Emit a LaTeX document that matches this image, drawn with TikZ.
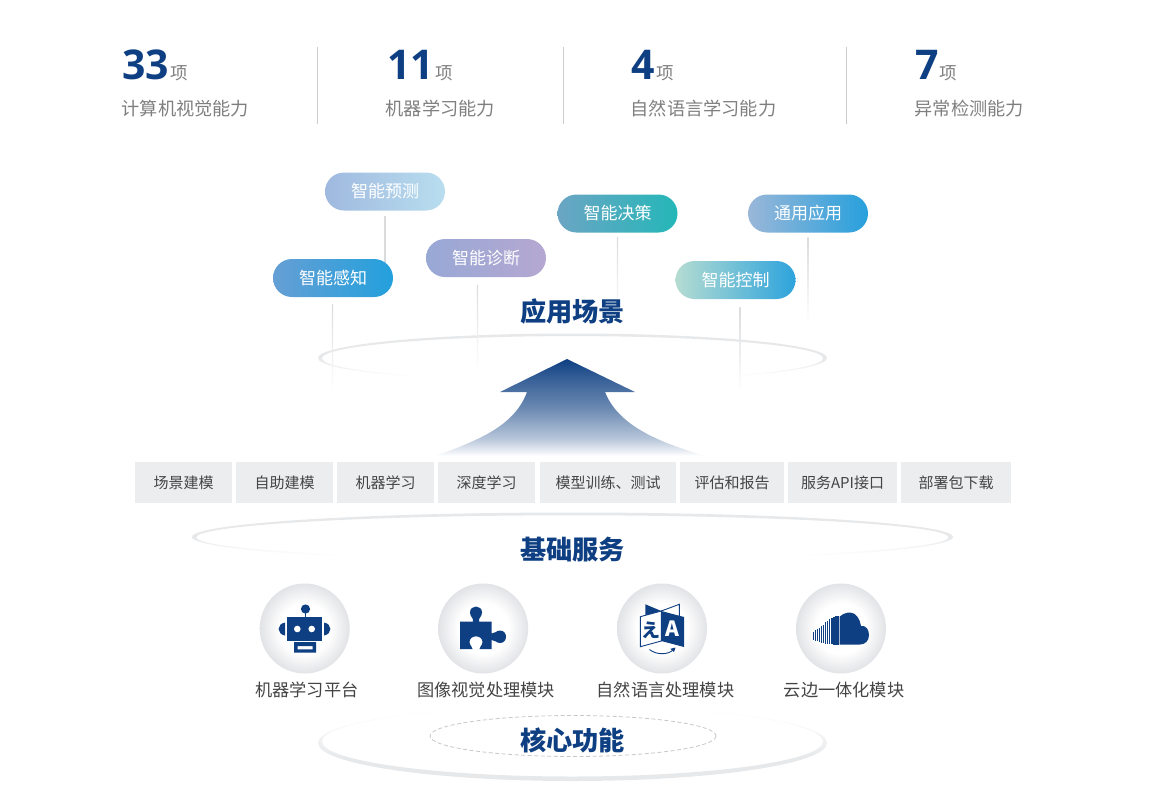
\documentclass[tikz,border=0pt]{standalone}
\usepackage{fontspec}
\setmainfont{Noto Sans CJK SC}
\newfontfamily\numfont{Open Sans}
\usetikzlibrary{calc}
\definecolor{navy}{HTML}{0E3F82}
\definecolor{ringgray}{HTML}{E6E8EA}
\definecolor{boxgray}{HTML}{ECEDEF}
\definecolor{discgray}{HTML}{E2E3E6}
\definecolor{statgray}{HTML}{7F7F7F}
\definecolor{labelgray}{HTML}{444444}
\definecolor{linegray}{HTML}{DADBDD}
\definecolor{pa}{HTML}{9FB9DF}\definecolor{pb}{HTML}{B9DEEF}
\definecolor{qa}{HTML}{659FD5}\definecolor{qb}{HTML}{23A0DC}
\definecolor{ra}{HTML}{98A8D5}\definecolor{rb}{HTML}{B5A8D2}
\definecolor{sa}{HTML}{6BA5C4}\definecolor{sb}{HTML}{24B7B8}
\definecolor{ta}{HTML}{9AB7D9}\definecolor{tb}{HTML}{27A0DC}
\definecolor{ua}{HTML}{B5DCD2}\definecolor{ub}{HTML}{2DA3DC}
\colorlet{ringsoft}{white!85!ringgray}
\colorlet{navya}{navy!30!white}
\colorlet{navyb}{navy!62!white}
\colorlet{navyc}{navy!80!white}
\pgfdeclareverticalshading{ringfade}{100bp}{color(0bp)=(white); color(31bp)=(white); color(50bp)=(ringgray); color(100bp)=(ringgray)}
\pgfdeclareverticalshading{ringrise}{100bp}{color(0bp)=(ringgray); color(40bp)=(ringgray); color(66bp)=(ringsoft); color(74bp)=(white); color(100bp)=(white)}
\pgfdeclareverticalshading{arrowfade}{100bp}{color(0bp)=(white); color(25bp)=(white); color(34bp)=(navya); color(50bp)=(navyb); color(63bp)=(navyc); color(75bp)=(navy); color(100bp)=(navy)}
\pgfdeclareradialshading{discshade}{\pgfpoint{0bp}{0bp}}{color(0bp)=(white); color(14bp)=(white); color(25bp)=(discgray); color(50bp)=(discgray)}
\tikzset{
  pill/.style={minimum width=120pt,minimum height=38pt,rounded corners=19pt,inner sep=0pt,text=white,font=\fontsize{17}{17}\selectfont},
  svc/.style={fill=boxgray,minimum height=41pt,inner sep=0pt,text=labelgray,font=\fontsize{15}{15}\selectfont},
  headline/.style={inner sep=0pt,text=navy,font=\fontsize{26.2}{26}\selectfont\bfseries},
  bignum/.style={anchor=base west,inner sep=0pt,text=navy,font=\numfont\fontsize{41}{41}\selectfont\bfseries},
  unit/.style={anchor=west,inner sep=0pt,text=statgray,font=\fontsize{17.5}{17}\selectfont},
  stat/.style={anchor=west,inner sep=0pt,text=statgray,font=\fontsize{18.2}{18}\selectfont},
  disc/.style={circle,minimum size=90pt,inner sep=0pt,shading=discshade},
  modlabel/.style={inner sep=0pt,text=labelgray,font=\fontsize{17.2}{17}\selectfont},
  divider/.style={draw=black!20,line width=0.9pt},
  icon/.style={fill=navy,draw=none},
  stalk/.style={top color=linegray,bottom color=white,draw=none},
}
\newcommand{\stalk}[4]{\coordinate (#1top) at (#2,#3);\coordinate (#1end) at (#2,#4);
  \shade[stalk] ($(#1top)+(-0.7,0)$) rectangle ($(#1end)+(0.7,0)$);}
\begin{document}
\begin{tikzpicture}[x=1pt,y=-1pt]
\useasboundingbox (0,0) rectangle (1151,811);
% stats
\node[bignum] (n1) at (122,79) {33};
\node[unit] (u1) at (170,73) {项};
\node[stat] (s1) at (121.5,109) {计算机视觉能力};
\node[bignum] (n2) at (387,79) {11};
\node[unit] (u2) at (435,73) {项};
\node[stat] (s2) at (385.5,109) {机器学习能力};
\node[bignum] (n3) at (631,79) {4};
\node[unit] (u3) at (656,73) {项};
\node[stat] (s3) at (630.5,109) {自然语言学习能力};
\node[bignum] (n4) at (915,79) {7};
\node[unit] (u4) at (939,73) {项};
\node[stat] (s4) at (914.5,109) {异常检测能力};
\foreach \x/\k in {317.5/a,563/b,846/c}{
  \coordinate (dt\k) at (\x,47); \coordinate (db\k) at (\x,124);
  \draw[divider] (dt\k) -- (db\k);
}
% rings
\shade[even odd rule,shading=ringfade]
  (572.5,358) ellipse [x radius=254.5,y radius=24.5]
  (572.5,358.3) ellipse [x radius=250.5,y radius=22.2];
\shade[even odd rule,shading=ringfade]
  (572.5,537) ellipse [x radius=380.5,y radius=24.5]
  (572.5,537.3) ellipse [x radius=376,y radius=22];
\shade[even odd rule,shading=ringrise]
  (572.5,743) ellipse [x radius=254.5,y radius=38]
  (572.5,741.5) ellipse [x radius=250.5,y radius=35];
\draw[black!22,line width=0.8pt,dash pattern=on 4pt off 2.5pt] (573,736) ellipse [x radius=143,y radius=20.5];
% connectors, under the pills
\coordinate (predicttop) at (385,216);
\coordinate (predictend) at (385,270);
\draw[linegray,line width=1.2pt] (predicttop) -- (predictend);
\stalk{perceive}{332.5}{304}{392}
\stalk{diag}{477.5}{285}{372}
\stalk{decide}{617.5}{237}{322}
\stalk{general}{808}{237}{324}
\stalk{control}{740}{307}{392}
% pills
\node[pill,left color=pa,right color=pb] (predict) at (385,191.5) {智能预测};
\node[pill,left color=qa,right color=qb] (perceive) at (333,278) {智能感知};
\node[pill,left color=ra,right color=rb] (diag) at (486,258) {智能诊断};
\node[pill,left color=sa,right color=sb] (decide) at (617.5,213.5) {智能决策};
\node[pill,left color=ta,right color=tb] (general) at (808,213.5) {通用应用};
\node[pill,left color=ua,right color=ub] (control) at (735.5,280) {智能控制};
\node[headline] (tapp) at (572.5,311.5) {应用场景};
% arrow
\shade[shading=arrowfade] (567,359) -- (635,392) -- (605,392)
  .. controls (620,430) and (670,445) .. (705,456) -- (435,456)
  .. controls (480,440) and (515,425) .. (527,392) -- (500,392) -- cycle;
% service boxes
\node[svc,minimum width=97pt]  (b1) at (183.5,482.5) {场景建模};
\node[svc,minimum width=97pt]  (b2) at (284.5,482.5) {自助建模};
\node[svc,minimum width=97pt]  (b3) at (385.5,482.5) {机器学习};
\node[svc,minimum width=97pt]  (b4) at (486.5,482.5) {深度学习};
\node[svc,minimum width=136pt] (b5) at (608,482.5) {模型训练、测试};
\node[svc,minimum width=104pt] (b6) at (732,482.5) {评估和报告};
\node[svc,minimum width=109pt] (b7) at (842.5,482.5) {服务API接口};
\node[svc,minimum width=110pt] (b8) at (956,482.5) {部署包下载};
\node[headline] (tbase) at (572.5,550) {基础服务};
% discs
\node[disc] (d1) at (304.7,628.5) {};
\node[disc] (d2) at (483.2,628.5) {};
\node[disc] (d3) at (662,628.5) {};
\node[disc] (d4) at (841,628.5) {};
\node[modlabel] (l1) at (306.8,690) {机器学习平台};
\node[modlabel] (l2) at (486,690) {图像视觉处理模块};
\node[modlabel] (l3) at (665.5,690) {自然语言处理模块};
\node[modlabel] (l4) at (844,690) {云边一体化模块};
\node[headline] (tcore) at (572.5,740) {核心功能};
% robot
\fill[icon] (287,617) rectangle (321.5,641);
\fill[white] (297.3,629) circle (3.3) (311.7,629) circle (3.3);
\fill[icon] (305.5,609) circle (4.6);
\fill[icon] (304.9,612) rectangle (306.1,618);
\fill[icon] (285,622.5) .. controls (276.5,624) and (276.5,634) .. (285,635.5) -- cycle;
\fill[icon] (324,622.5) .. controls (332.5,624) and (332.5,634) .. (324,635.5) -- cycle;
\fill[icon,even odd rule] (294,642) rectangle (316,652.5) (297.5,646) rectangle (312.5,649.3);
% puzzle
\fill[icon] (460,621.5) -- (473,621.5)
  .. controls (474,618) and (470,617) .. (470,612.5)
  .. controls (470,604.5) and (482,604.5) .. (482,612.5)
  .. controls (482,617) and (478,618) .. (479,621.5)
  -- (491.7,621.5) -- (491.7,633.5)
  .. controls (495,634) and (496,630.5) .. (500,630.5)
  .. controls (508,630.5) and (508,643) .. (500,643)
  .. controls (496,643) and (495,639.5) .. (491.7,640)
  -- (491.7,649) -- (479.5,649)
  .. controls (479,646.5) and (482.5,646) .. (482.5,642)
  .. controls (482.5,634.5) and (469.5,634.5) .. (469.5,642)
  .. controls (469.5,646) and (473,646.5) .. (472.5,649)
  -- (460,649) -- cycle;
% translate
\fill[icon] (645.3,604.3) -- (661.3,611) -- (645.3,615.5) -- cycle;
\draw[navy,line width=0.9pt,line join=miter] (661.3,611) -- (679.3,604.3) -- (679.3,616);
\filldraw[navy,fill=white,line width=0.9pt] (640.3,616.7) -- (661.3,611) -- (661.3,641) -- (640.3,646.7) -- cycle;
\fill[icon] (661.3,611) -- (684,617) -- (684,647) -- (661.3,641) -- cycle;
\node[inner sep=0pt,text=navy,font=\fontsize{19}{19}\selectfont\bfseries] (gja) at (650.8,630.5) {え};
\node[inner sep=0pt,text=white,font=\fontsize{21}{21}\selectfont\bfseries] (gla) at (672.5,629) {A};
\draw[navy,line width=0.9pt] (649.5,649.5) .. controls (656,655) and (668,655) .. (673,650);
\fill[icon] (675.5,647.5) -- (670.5,648.8) -- (674,652.2) -- cycle;
% cloud
\fill[icon] (839.5,644.5) -- (839.5,616.8) .. controls (843,613.5) and (847,612.5) .. (850,612.5)
  .. controls (856,612.5) and (860,619) .. (861,626)
  .. controls (866,625) and (869,630) .. (869,635)
  .. controls (869,641) and (865,644.5) .. (860,644.5) -- cycle;
\foreach \x/\a/\b/\w in {813/631.5/640/0.9,815/630/640.5/0.9,817/628.5/641/1,819/627.5/642/1,821/626/642.5/1.1,
  823/625/643/1.2,825/622/643.5/1.3,827/620.5/644/1.4,829/619/644/1.4,831/617.5/644/1.5,833/616.5/644.5/1.6,835/616/644.5/1.7,837/615.5/644.5/2}{
  \fill[navy] (\x,\a) rectangle (\x+\w,\b);
}
\end{tikzpicture}
\end{document}
